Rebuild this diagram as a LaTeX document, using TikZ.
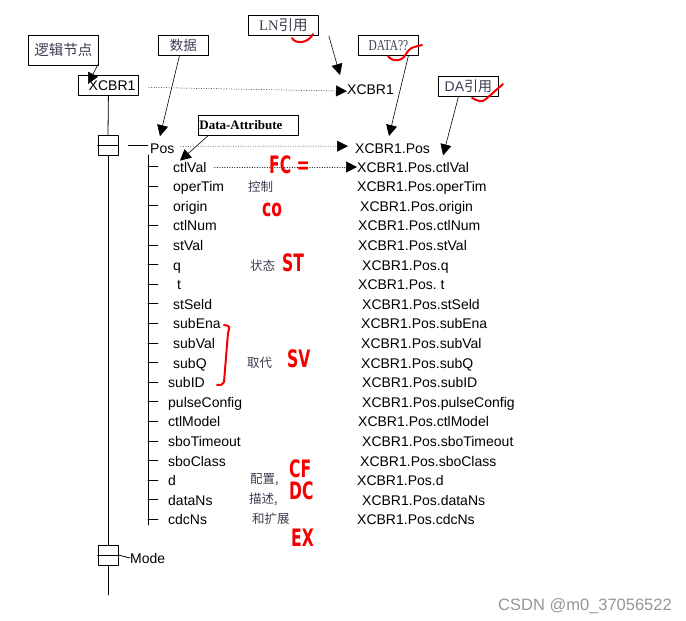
\documentclass[tikz,border=0pt]{standalone}
\usepackage{graphicx}
\usepackage{fontspec}
\setmainfont{Liberation Sans}
\newfontfamily\cjk{Noto Sans CJK SC}
\newfontfamily\timesf{Liberation Serif}
\newfontfamily\penf{DejaVu Sans}
\usetikzlibrary{positioning,arrows.meta}
\definecolor{notegray}{RGB}{60,60,80}
\definecolor{penred}{RGB}{245,0,0}
\definecolor{markgray}{RGB}{150,150,150}
\newcommand{\handtext}[1]{\scalebox{0.65}[1]{#1}}

\begin{document}
\begin{tikzpicture}[x=1pt,y=-1pt,line cap=round,line join=round,
  >={Triangle[length=11pt,width=11pt]},
  note/.style={draw,line width=0.8pt,inner sep=0pt,anchor=north west,text=notegray},
  item/.style={inner sep=0pt,anchor=base west,font=\fontsize{14}{16}\selectfont},
  cnnote/.style={inner sep=0pt,anchor=west,text=notegray,font=\cjk\fontsize{12.5}{14}\selectfont},
  hand/.style={inner sep=0pt,anchor=west,text=penred,font=\penf\bfseries\fontsize{24}{24}\selectfont},
  ptr/.style={->,line width=0.6pt},
  dotline/.style={dotted,line width=0.5pt},
  tree/.style={line width=0.8pt},
  pen/.style={penred,line width=2pt}]
  \useasboundingbox (0,0) rectangle (686,621);

  % Callout boxes
  \node[note,minimum width=70pt,minimum height=30pt,font=\cjk\fontsize{14.5}{16}\selectfont] (lnnote) at (28,35) {逻辑节点};
  \node[note,minimum width=50pt,minimum height=20pt,font=\cjk\fontsize{13.5}{15}\selectfont] (datanote) at (158,35) {数据};
  \node[note,minimum width=70pt,minimum height=20pt,font=\fontsize{14.5}{16}\selectfont] (lnref) at (248,15) {\timesf LN\cjk 引用};
  \node[note,minimum width=60pt,minimum height=20pt,font=\timesf\fontsize{15}{16}\selectfont] (dataq) at (358,35) {\scalebox{0.76}[1]{DATA??}};
  \node[note,minimum width=60pt,minimum height=20pt,font=\fontsize{14}{16}\selectfont] (daref) at (438,76) {DA\cjk 引用};
  \node[note,minimum width=100pt,minimum height=20pt,text width=98pt,align=left,inner sep=1pt,text=black,
    font=\timesf\bfseries\fontsize{13}{14}\selectfont] (dattr) at (198,115) {Data-Attribute};

  % Logical node and its tree
  \node[draw,tree,anchor=north west,minimum width=60pt,minimum height=20pt,text width=54pt,align=right,
    inner sep=3pt,font=\fontsize{14}{16}\selectfont] (xcbr) at (78,75) {XCBR1};
  \node[draw,tree,minimum size=20pt,inner sep=0pt] (posbox) at (108,145) {};
  \node[draw,tree,minimum size=20pt,inner sep=0pt] (modebox) at (108,555) {};
  \draw[tree] (posbox.west) -- (posbox.east);
  \draw[tree] (modebox.west) -- (modebox.east);
  \coordinate (trunkend) at (108,595);
  \draw[tree] (xcbr.south) -- (posbox.north);
  \draw[tree] (posbox.south) -- (modebox.north);
  \draw[tree] (modebox.south) -- (trunkend);

  \node[item] (pos) at (150,153) {Pos};
  \node[item] (mode) at (130,563) {Mode};
  \draw[tree] ([xshift=10pt]posbox.east) -- ([xshift=-2pt]posbox.east -| pos.west);
  \draw[tree] (modebox.east) -- (mode.west);

  \coordinate (spinetop) at (148,155);
  \coordinate (spinebot) at (148,525);
  \draw[tree] (spinetop) -- (spinebot);

  % References on the right
  \node[item] (rxcbr) at (347,94) {XCBR1};
  \node[item] (rpos) at (355,153) {XCBR1.Pos};

  % Data attributes
  \foreach \nm/\lbl/\lx/\rx [count=\i from 0] in {
      ctlVal/ctlVal/173/357, operTim/operTim/173/357, origin/origin/173/360,
      ctlNum/ctlNum/173/358, stVal/stVal/173/358, q/q/173/362, t/{\ t}/173/358,
      stSeld/stSeld/173/362, subEna/subEna/173/361, subVal/subVal/173/361,
      subQ/subQ/173/361, subID/subID/168/362, pulseConfig/pulseConfig/168/362,
      ctlModel/ctlModel/168/358, sboTimeout/sboTimeout/168/362,
      sboClass/sboClass/168/360, d/d/168/357, dataNs/dataNs/168/362, cdcNs/cdcNs/168/357} {
    \pgfmathsetmacro\y{172+19.6*\i}
    \coordinate (t-\nm) at (148,\y-5.5);
    \draw[tree] (t-\nm) -- ++(10,0);
    \node[item] (c-\nm) at (\lx,\y) {\lbl};
    \node[item] (r-\nm) at (\rx,\y) {XCBR1.Pos.\lbl};
  }

  % Dotted links
  \draw[dotline,->] ([xshift=10pt,yshift=-2pt]xcbr.east) -- ([yshift=-2pt]rxcbr.west);
  \draw[dotline,->] ([xshift=6pt,yshift=2pt]pos.east) -- ([xshift=-7pt,yshift=2pt]rpos.west);
  \draw[dotline,->] ([xshift=8pt]c-ctlVal.east) -- (r-ctlVal.west);

  % Pointers from the callouts
  \draw[ptr] ([xshift=-1pt,yshift=1pt]lnnote.south east) -- ([xshift=10pt,yshift=-9pt]xcbr.north west);
  \draw[ptr] ([xshift=-4pt]datanote.south) -- ([xshift=10pt,yshift=7pt]pos.north west);
  \draw[ptr] ([xshift=10pt]lnref.south east) -- ([xshift=-7pt,yshift=9pt]rxcbr.north west);
  \draw[ptr] ([xshift=20pt]dataq.south) -- ([xshift=34pt,yshift=7pt]rpos.north west);
  \draw[ptr] ([xshift=-10pt]daref.south) -- ([xshift=13pt,yshift=-2pt]rpos.south east);
  \draw[ptr] ([xshift=10pt]dattr.south west) -- ([xshift=7pt,yshift=1pt]c-ctlVal.north west);

  % Group names
  \node[cnnote] (cnctl) at (248,187) {控制};
  \node[cnnote] (cnst) at (250,266) {状态};
  \node[cnnote] (cnsv) at (247,363) {取代};
  \node[cnnote] (cncf) at (250,480) {配置,};
  \node[cnnote] (cndc) at (249,499) {描述,};
  \node[cnnote] (cnex) at (252,519) {和扩展};

  % Red pen notes
  \node[hand] (fcmark) at (269,165) {\handtext{FC =}};
  \node[hand] (comark) at (262,210) {\handtext{co}};
  \node[hand] (stmark) at (282,263) {\handtext{ST}};
  \node[hand] (svmark) at (287,359) {\handtext{SV}};
  \node[hand] (cfmark) at (289,469) {\handtext{CF}};
  \node[hand] (dcmark) at (289,491) {\handtext{DC}};
  \node[hand] (exmark) at (291,538) {\handtext{EX}};
  \draw[pen] (224,325) .. controls (230,326) .. (228,333) -- (224,382) .. controls (222,385) .. (217,385);
  \draw[pen] (292,38) .. controls (295,44) and (308,44) .. (313,34);
  \draw[pen] (388,56) .. controls (392,62) and (402,62) .. (406,54) .. controls (410,48) .. (422,45);
  \draw[pen] (472,98) .. controls (478,101) and (482,103) .. (486,99) -- (503,84);

  % Watermark
  \node[inner sep=0pt,anchor=base east,text=markgray,font=\fontsize{16.5}{18}\selectfont] (mark) at (672,610) {CSDN @m0\_37056522};
\end{tikzpicture}
\end{document}
